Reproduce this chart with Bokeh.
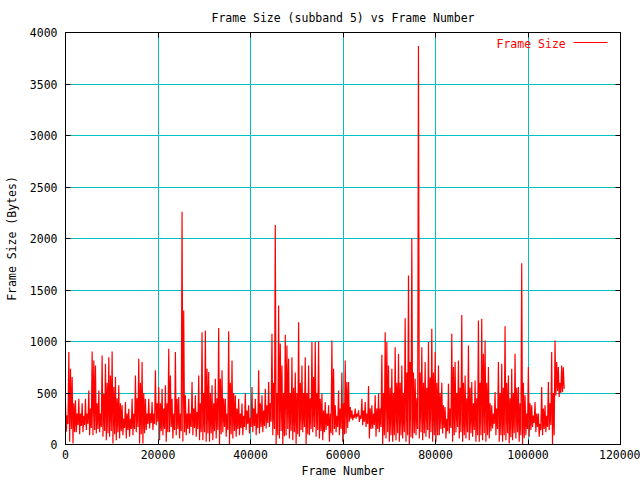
import numpy as np
from bokeh.plotting import figure
from bokeh.models import Range1d, LinearAxis, Label, BoxAnnotation, FixedTicker, PrintfTickFormatter
from bokeh.embed import file_html
from bokeh.resources import INLINE

FONT = "DejaVu Sans Mono"
FS = "11.5px"

title_text = "Frame Size (subband 5) vs Frame Number"
x_label = "Frame Number"
y_label = "Frame Size (Bytes)"
series_name = "Frame Size"

x_ticks = [0, 20000, 40000, 60000, 80000, 100000, 120000]
y_ticks = [0, 500, 1000, 1500, 2000, 2500, 3000, 3500, 4000]

# frame spacing between consecutive samples
frame_step = 180

# per-bin frame sizes (bytes):
# highest spike, deepest dip, upper edge and lower edge of the dense band
peak = [
    403, 897, 655, 430, 445, 400, 445, 525, 903, 768,
    525, 865, 784, 848, 903, 655, 574, 380, 413, 348,
    445, 671, 832, 800, 445, 445, 413, 720, 558, 542,
    574, 929, 445, 897, 461, 2260, 477, 445,
    606, 477, 671, 1090, 1106, 703, 574, 639, 1130, 720,
    445, 1100, 816, 477, 445, 397, 494, 380, 558, 445,
    720, 477, 542, 606, 1074, 2130, 1350, 768, 1065, 832,
    848, 700, 1187, 768, 848, 768, 994, 994,
    1003, 494, 413, 380, 1010, 380, 525, 700, 816, 606,
    332, 348, 332, 445, 413, 568, 380, 477, 494, 871,
    1090, 768, 735, 945, 880, 768, 1226, 1640, 2000, 639,
    3870, 945, 800, 994, 1123, 897, 768, 600,
    364, 590, 1074, 800, 816, 1258, 671, 961, 606, 622,
    1203, 1220, 1010, 752, 380, 510, 800, 784, 1148, 671,
    735, 880, 558, 1760, 477, 752, 380, 413, 300, 558,
    380, 606, 897, 1010, 752, 768,
]
trough = [
    123, 26, 10, 120, 100, 120, 140, 90, 90, 106,
    120, 75, 42, 75, 10, 42, 58, 90, 58, 75,
    90, 120, 10, 10, 140, 155, 140, 187, 42, 90,
    26, 120, 58, 90, 58, 30, 90, 106,
    90, 75, 42, 42, 26, 26, 42, 58, 0, 120,
    75, 0, 58, 75, 90, 90, 140, 106, 120, 90,
    106, 120, 155, 170, 90, 0, 58, 0, 90, 58,
    42, 0, 75, 120, 0, 90, 120, 75,
    58, 42, 140, 26, 90, 120, 90, 26, 106, 220,
    235, 250, 220, 187, 170, 58, 155, 75, 120, 0,
    58, 26, 26, 42, 26, 58, 26, 0, 58, 90,
    58, 42, 75, 58, 26, 26, 90, 106,
    58, 106, 26, 120, 58, 26, 58, 42, 75, 26,
    26, 42, 26, 58, 155, 90, 26, 26, 42, 10,
    42, 58, 26, 0, 90, 75, 170, 120, 75, 90,
    120, 140, 0, 477, 461, 510,
]
band_top = [
    284, 735, 400, 300, 300, 280, 300, 350, 816, 400,
    300, 490, 600, 670, 558, 450, 400, 250, 300, 250,
    300, 450, 600, 500, 300, 300, 300, 400, 400, 350,
    400, 671, 300, 445, 300, 1300, 300, 300,
    350, 316, 400, 500, 735, 500, 400, 450, 639, 450,
    300, 600, 500, 350, 300, 280, 330, 260, 350, 300,
    400, 330, 380, 400, 600, 500, 980, 500, 961, 500,
    550, 500, 600, 500, 500, 450, 655, 500,
    445, 330, 300, 300, 735, 280, 350, 400, 606, 364,
    290, 300, 280, 330, 300, 350, 300, 350, 350, 500,
    994, 550, 500, 600, 600, 500, 700, 800, 700, 450,
    700, 600, 550, 650, 700, 600, 500, 380,
    250, 350, 752, 500, 550, 600, 450, 550, 400, 450,
    600, 880, 600, 400, 300, 350, 500, 550, 600, 450,
    500, 550, 400, 600, 300, 400, 280, 300, 200, 350,
    280, 400, 500, 800, 600, 750,
]
band_bottom = [
    200, 150, 120, 190, 180, 190, 200, 160, 140, 150,
    170, 130, 110, 130, 100, 120, 130, 160, 140, 150,
    150, 170, 100, 110, 200, 210, 200, 220, 130, 150,
    120, 170, 140, 150, 130, 120, 150, 170,
    160, 150, 120, 120, 110, 110, 130, 140, 100, 170,
    140, 100, 130, 150, 160, 170, 200, 170, 180, 160,
    170, 180, 210, 220, 150, 90, 130, 80, 150, 130,
    120, 100, 140, 170, 100, 150, 170, 140,
    130, 120, 180, 110, 150, 170, 150, 100, 160, 250,
    260, 270, 250, 220, 200, 150, 190, 150, 170, 90,
    120, 90, 90, 110, 90, 120, 90, 70, 110, 150,
    120, 110, 140, 120, 90, 90, 150, 160,
    130, 160, 90, 170, 120, 90, 120, 110, 140, 90,
    90, 110, 90, 130, 200, 150, 90, 90, 110, 70,
    110, 120, 90, 60, 150, 140, 210, 170, 140, 150,
    170, 190, 90, 520, 500, 540,
]

sizes = np.column_stack([peak, trough, band_top, band_bottom]).ravel()
frames = np.arange(len(sizes)) * frame_step

GRID = "#00c0c0"
RED = "#ff0000"

p = figure(width=640, height=480, output_backend="svg", toolbar_location=None,
           x_range=Range1d(0, 120000), y_range=Range1d(0, 4000),
           min_border_left=65, min_border_right=20, min_border_top=32, min_border_bottom=34,
           title=title_text)
p.background_fill_color = "white"
p.border_fill_color = "white"
p.outline_line_color = "black"
p.outline_line_width = 1
p.outline_line_alpha = 1

p.title.text_font = FONT
p.title.text_font_size = FS
p.title.text_font_style = "normal"
p.title.align = "center"
p.title.text_color = "black"
p.title.standoff = 16

p.line(frames, sizes, line_color=RED, line_width=1.2)

xt = FixedTicker(ticks=x_ticks)
yt = FixedTicker(ticks=y_ticks)
p.xaxis.ticker = xt
p.yaxis.ticker = yt
p.xaxis.formatter = PrintfTickFormatter(format="%d")
p.yaxis.formatter = PrintfTickFormatter(format="%d")
p.xgrid.ticker = xt
p.ygrid.ticker = yt
for g in (p.xgrid, p.ygrid):
    g.grid_line_color = GRID
    g.grid_line_width = 1
    g.grid_line_alpha = 1

p.xaxis.axis_label = x_label
p.yaxis.axis_label = y_label
for ax in (p.xaxis, p.yaxis):
    ax.major_tick_in = 5
    ax.major_tick_out = 0
    ax.minor_tick_line_color = None
    ax.axis_line_color = "black"
    ax.major_tick_line_color = "black"
    ax.major_label_text_font = FONT
    ax.major_label_text_font_size = FS
    ax.major_label_text_color = "black"
    ax.axis_label_text_font = FONT
    ax.axis_label_text_font_size = FS
    ax.axis_label_text_font_style = "normal"
    ax.axis_label_text_color = "black"
p.xaxis.major_label_standoff = 5
p.xaxis.axis_label_standoff = 2
p.yaxis.major_label_standoff = 8
p.yaxis.axis_label_standoff = 8

blank_x = {t: "" for t in x_ticks}
blank_y = {t: "" for t in y_ticks}
top = LinearAxis(ticker=xt, major_label_overrides=blank_x, major_tick_in=5, major_tick_out=0,
                 minor_tick_line_color=None, major_label_standoff=0, axis_label_standoff=0,
                 axis_line_color="black", major_label_text_font_size="1px")
right = LinearAxis(ticker=yt, major_label_overrides=blank_y, major_tick_in=5, major_tick_out=0,
                   minor_tick_line_color=None, major_label_standoff=0, axis_label_standoff=0,
                   axis_line_color="black", major_label_text_font_size="1px")
p.add_layout(top, "above")
p.add_layout(right, "right")

# legend (text then sample line, as in the original), placed in frame screen units
p.add_layout(Label(x=431, y=401, x_units="screen", y_units="screen", text=series_name,
                   text_color=RED, text_font=FONT, text_font_size=FS,
                   text_baseline="middle", text_align="left"))
p.add_layout(BoxAnnotation(left=508, right=542, bottom=401.5, top=402.5,
                           left_units="screen", right_units="screen",
                           bottom_units="screen", top_units="screen",
                           fill_color=RED, fill_alpha=1, line_color=None))

open("out.html", "w").write(file_html(p, INLINE))
